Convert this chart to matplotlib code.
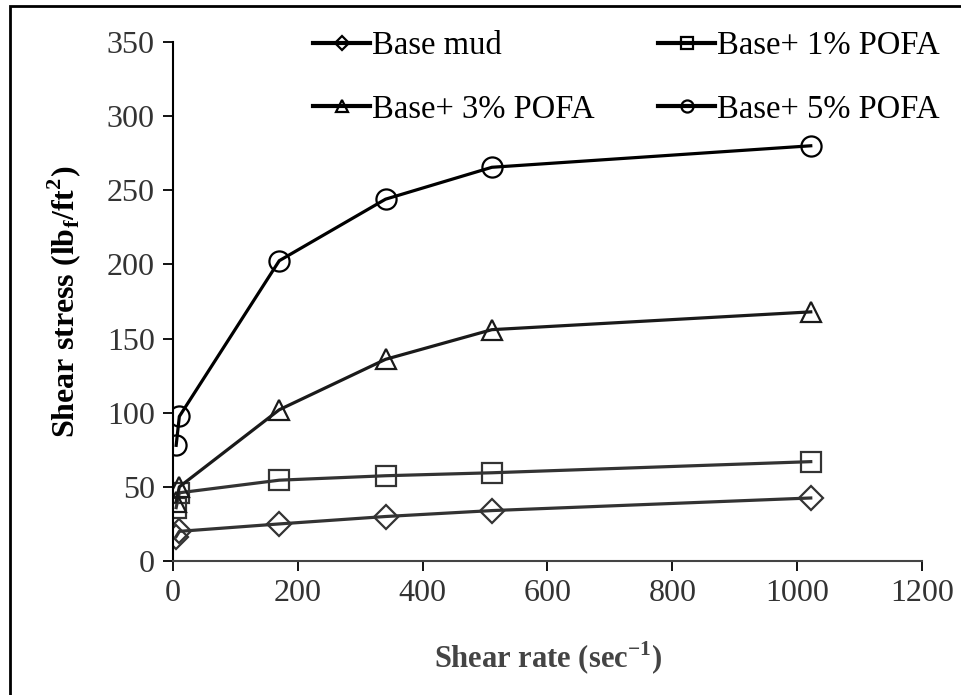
import matplotlib.pyplot as plt
from matplotlib.patches import Rectangle

plt.rcParams['font.family'] = ['Liberation Serif', 'DejaVu Serif']
plt.rcParams['mathtext.fontset'] = 'custom'
plt.rcParams['mathtext.rm'] = 'Liberation Serif'
plt.rcParams['mathtext.bf'] = 'Liberation Serif:bold'

# shear rates from 3, 6, 100, 200, 300, 600 rpm
shear_rate = [5.11, 10.22, 170.3, 340.6, 510.9, 1021.8]
base_mud = [16.5, 20, 25, 30, 34, 42.5]
pofa_1 = [36, 46, 54.5, 57.5, 59.5, 67]
pofa_3 = [40, 50, 102, 136, 156, 168]
pofa_5 = [78, 97.5, 202.5, 244, 265.5, 280]

labels = ["Base mud", "Base+ 1% POFA", "Base+ 3% POFA", "Base+ 5% POFA"]
series = [base_mud, pofa_1, pofa_3, pofa_5]
markers = ['D', 's', '^', 'o']
sizes = [12.5, 14, 15, 14.5]
colors = ['#333333', '#333333', '#1a1a1a', '#000000']

fig = plt.figure(figsize=(9.62, 6.95), dpi=100)
ax = fig.add_axes([0.1798, 0.1928, 0.9584 - 0.1798, 0.9396 - 0.1928])

for y, lab, m, ms, c in zip(series, labels, markers, sizes, colors):
    ax.plot(shear_rate, y, color=c, lw=2.3, marker=m, ms=ms,
            markerfacecolor='none', markeredgecolor=c, markeredgewidth=1.6,
            label=lab)

ax.set_xlim(0, 1200)
ax.set_ylim(0, 350)
ax.set_xticks(range(0, 1201, 200))
ax.set_yticks(range(0, 351, 50))
ax.spines['top'].set_visible(False)
ax.spines['right'].set_visible(False)
ax.spines['left'].set_linewidth(1.5)
ax.spines['bottom'].set_linewidth(1.5)
ax.spines['bottom'].set_color('#444444')
ax.tick_params(axis='both', direction='out', length=7, width=1.3,
               labelsize=23, labelcolor='#333333', pad=6)
ax.set_xlabel("Shear rate (sec$^{\\mathbf{-1}}$)", fontsize=22,
              fontweight='bold', color='#444444', labelpad=23)
ax.set_ylabel("Shear stress (lb$_{\\mathbf{f}}$/ft$^{\\mathbf{2}}$)",
              fontsize=23, fontweight='bold', labelpad=17)

handles, labs = ax.get_legend_handles_labels()
order = [0, 2, 1, 3]
leg = fig.legend([handles[i] for i in order], [labs[i] for i in order],
                 ncol=2, loc='upper left', bbox_to_anchor=(313 / 962, 1 - 31 / 695),
                 frameon=False, fontsize=23.5, handlelength=1.75, handletextpad=0.05,
                 columnspacing=1.95, labelspacing=1.0, borderpad=0, borderaxespad=0,
                 markerscale=0.6)
for line in leg.get_lines():
    line.set_color('black')
    line.set_linewidth(3)
    line.set_markeredgecolor('black')

fig.patches.append(Rectangle((10 / 962, -0.01), 1.0, 1 - 6 / 695 + 0.01,
                             transform=fig.transFigure, fill=False,
                             edgecolor='black', lw=2))

fig.savefig("out.png", dpi=100)
